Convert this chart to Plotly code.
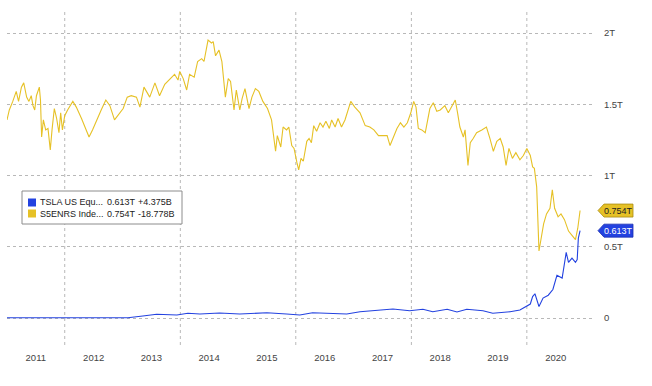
import datetime as dt
import plotly.graph_objects as go

# ---------------- data (time as decimal years, values in trillions USD) ----------------
energy_t = [2011.00,2011.04,2011.10,2011.16,2011.20,2011.25,2011.29,2011.32,2011.34,2011.38,2011.42,2011.45,2011.48,
    2011.51,2011.56,2011.58,2011.60,2011.63,2011.67,2011.71,2011.75,2011.78,2011.82,2011.86,2011.90,2011.93,2011.96,
    2012.00,2012.05,2012.14,2012.20,2012.29,2012.36,2012.42,2012.48,2012.55,2012.63,2012.71,2012.78,2012.86,2012.95,
    2013.01,2013.08,2013.15,2013.24,2013.30,2013.37,2013.47,2013.56,2013.64,2013.73,2013.82,2013.90,2013.96,2013.99,
    2014.05,2014.11,2014.16,2014.24,2014.30,2014.37,2014.41,2014.48,2014.54,2014.57,2014.61,2014.67,2014.72,2014.78,
    2014.83,2014.87,2014.93,2014.97,2015.03,2015.07,2015.12,2015.19,2015.24,2015.30,2015.36,2015.43,2015.51,2015.58,
    2015.65,2015.68,2015.74,2015.78,2015.84,2015.88,2015.93,2015.97,2016.02,2016.05,2016.09,2016.13,2016.19,2016.23,
    2016.27,2016.31,2016.36,2016.42,2016.47,2016.52,2016.58,2016.62,2016.68,2016.73,2016.79,2016.85,2016.95,2017.02,
    2017.11,2017.20,2017.28,2017.35,2017.43,2017.51,2017.58,2017.63,2017.69,2017.75,2017.81,2017.87,2017.93,2017.99,
    2018.04,2018.08,2018.12,2018.18,2018.24,2018.28,2018.32,2018.38,2018.44,2018.50,2018.58,2018.64,2018.70,2018.76,
    2018.80,2018.84,2018.90,2018.93,2018.98,2019.02,2019.07,2019.13,2019.22,2019.30,2019.36,2019.42,2019.48,2019.54,
    2019.59,2019.64,2019.69,2019.75,2019.81,2019.88,2019.94,2020.00,2020.06,2020.10,2020.13,2020.17,2020.21,2020.25,
    2020.29,2020.34,2020.40,2020.44,2020.48,2020.54,2020.59,2020.65,2020.72,2020.78,2020.84,2020.88,2020.92]
energy_v = [1.39,1.46,1.52,1.59,1.52,1.62,1.65,1.60,1.55,1.52,1.56,1.49,1.46,
    1.56,1.62,1.53,1.27,1.39,1.32,1.33,1.18,1.32,1.47,1.40,1.30,1.44,1.32,
    1.42,1.46,1.52,1.48,1.40,1.33,1.27,1.32,1.39,1.46,1.53,1.49,1.39,1.44,
    1.47,1.55,1.56,1.55,1.48,1.62,1.55,1.65,1.56,1.64,1.68,1.71,1.67,1.73,
    1.68,1.60,1.71,1.69,1.80,1.82,1.80,1.95,1.93,1.94,1.84,1.88,1.80,1.55,
    1.68,1.66,1.46,1.60,1.46,1.54,1.61,1.47,1.55,1.61,1.59,1.52,1.47,1.39,
    1.17,1.28,1.20,1.34,1.32,1.34,1.21,1.19,1.09,1.04,1.12,1.10,1.24,1.26,
    1.23,1.35,1.31,1.37,1.34,1.38,1.33,1.39,1.34,1.40,1.34,1.39,1.52,1.48,
    1.44,1.35,1.34,1.32,1.28,1.28,1.28,1.21,1.27,1.33,1.37,1.34,1.37,1.44,
    1.52,1.48,1.33,1.32,1.30,1.38,1.47,1.51,1.45,1.46,1.49,1.44,1.48,1.53,
    1.44,1.34,1.27,1.32,1.07,1.23,1.26,1.30,1.32,1.34,1.26,1.17,1.24,1.26,
    1.20,1.07,1.19,1.12,1.16,1.11,1.14,1.19,1.14,1.06,1.05,0.92,0.47,0.57,
    0.66,0.73,0.77,0.90,0.77,0.71,0.73,0.69,0.61,0.58,0.55,0.63,0.754]

tsla_t = [2011.00,2012.00,2013.09,2013.35,2013.59,2013.94,2014.13,2014.34,2014.68,2015.03,2015.50,2015.84,2016.07,
    2016.29,2016.64,2016.88,2017.11,2017.40,2017.68,2017.97,2018.20,2018.37,2018.62,2018.79,2018.96,2019.24,2019.41,
    2019.71,2019.88,2020.06,2020.10,2020.14,2020.21,2020.28,2020.37,2020.45,2020.52,2020.61,2020.65,2020.68,2020.72,
    2020.78,2020.84,2020.87,2020.89,2020.92]
tsla_v = [0.002,0.002,0.002,0.014,0.026,0.021,0.033,0.028,0.035,0.028,0.037,0.028,0.021,
    0.037,0.033,0.028,0.044,0.056,0.063,0.051,0.061,0.044,0.061,0.042,0.061,0.051,0.033,
    0.044,0.056,0.098,0.150,0.170,0.080,0.140,0.160,0.200,0.300,0.280,0.390,0.460,0.390,
    0.420,0.390,0.410,0.560,0.613]

series_names = ["TSLA US Equ...", "S5ENRS Inde..."]
series_changes = ["+4.375B", "-18.778B"]
series_colors = ["#2342E0", "#E6C126"]

y_tickvals = [0, 0.5, 1, 1.5, 2]
y_ticktext = ["0", "0.5T", "1T", "1.5T", "2T"]
year_labels = list(range(2011, 2021))
grid_years = [2012, 2014, 2016, 2018, 2020]


def to_date(t):
    year = int(t)
    start = dt.datetime(year, 1, 1)
    return start + (dt.datetime(year + 1, 1, 1) - start) * (t - year)


energy_dates = [to_date(t) for t in energy_t]
tsla_dates = [to_date(t) for t in tsla_t]

# ---------------- layout geometry ----------------
WIDTH, HEIGHT = 652, 386
ML, MR, MT, MB = 7, 57, 12, 41
PW, PH = WIDTH - ML - MR, HEIGHT - MT - MB
Y_MIN, Y_MAX = -0.1895, 2.1474
X_RANGE = ["2011-01-01", "2021-03-07"]
FONT = "Liberation Sans, Arial, sans-serif"
SMALL = 9


def pxx(px):
    return (px - ML) / PW


def pxy(py):
    return (MT + PH - py) / PH


def vy(v):
    return (v - Y_MIN) / (Y_MAX - Y_MIN)


fig = go.Figure()
fig.add_trace(go.Scatter(x=tsla_dates, y=tsla_v, mode="lines",
                         line=dict(color=series_colors[0], width=1.1), hoverinfo="skip"))
fig.add_trace(go.Scatter(x=energy_dates, y=energy_v, mode="lines",
                         line=dict(color=series_colors[1], width=1.1), hoverinfo="skip"))

shapes = []
for yr in grid_years:
    shapes.append(dict(type="line", xref="x", yref="paper", x0=f"{yr}-01-01", x1=f"{yr}-01-01",
                       y0=0, y1=1, line=dict(color="#b8b8b8", width=1, dash="dot"), layer="below"))

annotations = []
last_vals = [tsla_v[-1], energy_v[-1]]
tag_text_colors = ["#ffffff", "#222222"]
tag_border = ["#1a2fb0", "#a88a10"]
half = 6.5 / PH
for i in [1, 0]:
    v = last_vals[i]
    yc = vy(v)
    x_tip, x_l, x_r = pxx(598), pxx(604), pxx(633)
    path = (f"M {x_tip},{yc} L {x_l},{yc+half} L {x_r},{yc+half} "
            f"L {x_r},{yc-half} L {x_l},{yc-half} Z")
    shapes.append(dict(type="path", xref="paper", yref="paper", path=path,
                       fillcolor=series_colors[i], line=dict(color=tag_border[i], width=0.8)))
    annotations.append(dict(xref="paper", yref="paper", x=pxx(618), y=yc, text=f"{v:.3f}T",
                            showarrow=False, xanchor="center", yanchor="middle",
                            font=dict(family=FONT, size=SMALL, color=tag_text_colors[i])))

# legend box
shapes.append(dict(type="rect", xref="paper", yref="paper", x0=pxx(22), x1=pxx(182),
                   y0=pxy(224), y1=pxy(191), fillcolor="#ffffff",
                   line=dict(color="#8c8c8c", width=1)))
row_y = [202.5, 213.5]
for i in range(2):
    ry = row_y[i]
    shapes.append(dict(type="rect", xref="paper", yref="paper", x0=pxx(28), x1=pxx(36),
                       y0=pxy(ry + 4), y1=pxy(ry - 4), fillcolor=series_colors[i],
                       line=dict(width=0)))
    cols = [(38, "left", series_names[i]), (104.5, "left", f"{last_vals[i]:.3f}T"),
            (174 if i == 0 else 177, "right", series_changes[i])]
    for cx, anchor, txt in cols:
        annotations.append(dict(xref="paper", yref="paper", x=pxx(cx), y=pxy(ry), text=txt,
                                showarrow=False, xanchor=anchor, yanchor="middle",
                                font=dict(family=FONT, size=SMALL, color="#222222")))

fig.update_layout(
    width=WIDTH, height=HEIGHT,
    margin=dict(l=ML, r=MR, t=MT, b=MB, pad=0),
    paper_bgcolor="#ffffff", plot_bgcolor="#ffffff",
    showlegend=False,
    font=dict(family=FONT, size=10, color="#444444"),
    xaxis=dict(type="date", range=X_RANGE, showgrid=False, zeroline=False, showline=False,
               tickvals=[f"{y}-07-02" for y in year_labels], ticktext=[str(y) for y in year_labels],
               ticks="outside", ticklen=4, tickcolor="rgba(0,0,0,0)",
               tickfont=dict(family=FONT, size=9.5, color="#444444")),
    yaxis=dict(side="right", range=[Y_MIN, Y_MAX], tickvals=y_tickvals, ticktext=y_ticktext,
               showgrid=True, gridcolor="#b8b8b8", griddash="dot", gridwidth=1,
               zeroline=False, showline=False,
               ticks="outside", ticklen=6, tickcolor="rgba(0,0,0,0)",
               tickfont=dict(family=FONT, size=9.5, color="#444444")),
    shapes=shapes,
    annotations=annotations,
)

fig.write_html("out.html", config={"displayModeBar": False},
               post_script="document.body.style.margin='0';document.body.style.overflow='hidden';")
